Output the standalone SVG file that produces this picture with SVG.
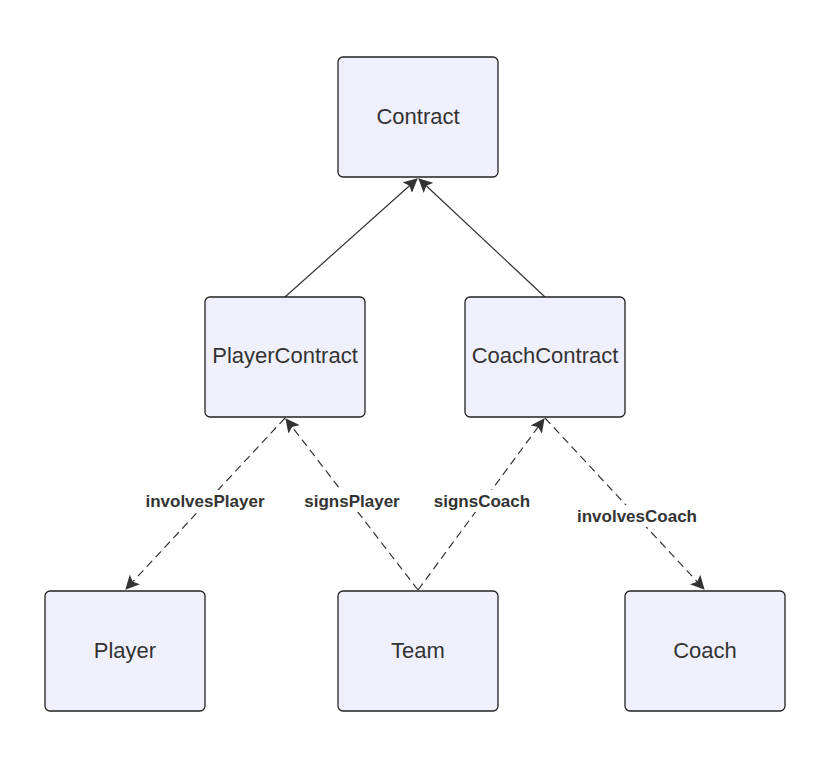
<svg xmlns="http://www.w3.org/2000/svg" width="828" height="762" viewBox="0 0 828 762">
<style>
.box{fill:#f0f0fd;stroke:#222;stroke-width:1.3}
.t{font-family:"Liberation Sans",Arial,sans-serif;font-size:22px;fill:#333;text-anchor:middle;dominant-baseline:central}
.e{stroke:#333;stroke-width:1.2;fill:none}
.d{stroke-dasharray:8 5}
.lb{font-family:"Liberation Sans",Arial,sans-serif;font-size:17px;font-weight:bold;fill:#333;text-anchor:middle;dominant-baseline:central}
.bg{fill:#fff}
</style>
<defs>
<marker id="ah" viewBox="0 0 14 14" refX="13" refY="7" markerWidth="14" markerHeight="14" markerUnits="userSpaceOnUse" orient="auto">
<path d="M0,0 L14,7 L0,14 L3,7 Z" fill="#333"/>
</marker>
</defs>
<rect width="828" height="762" fill="#fff"/>
<g id="connectors">
<line class="e" x1="285" y1="297" x2="417" y2="179" marker-end="url(#ah)"/>
<line class="e" x1="545" y1="297" x2="419" y2="179" marker-end="url(#ah)"/>
<line class="e d" x1="285" y1="418" x2="126" y2="589" marker-end="url(#ah)"/>
<line class="e d" x1="418" y1="590" x2="286" y2="419" marker-end="url(#ah)"/>
<line class="e d" x1="418" y1="590" x2="544" y2="419" marker-end="url(#ah)"/>
<line class="e d" x1="545" y1="418" x2="704" y2="589" marker-end="url(#ah)"/>
<rect class="bg" x="141" y="490" width="128" height="22"/>
<text class="lb" x="205" y="501">involvesPlayer</text>
<rect class="bg" x="301" y="490" width="102" height="22"/>
<text class="lb" x="352" y="501">signsPlayer</text>
<rect class="bg" x="431" y="490" width="102" height="22"/>
<text class="lb" x="482" y="501">signsCoach</text>
<rect class="bg" x="573" y="505" width="128" height="22"/>
<text class="lb" x="637" y="516">involvesCoach</text>
</g>
<g id="Contract"><rect class="box" x="338" y="57" width="160" height="120" rx="5"/><text class="t" x="418" y="116">Contract</text></g>
<g id="PlayerContract"><rect class="box" x="205" y="297" width="160" height="120" rx="5"/><text class="t" x="285" y="355">PlayerContract</text></g>
<g id="CoachContract"><rect class="box" x="465" y="297" width="160" height="120" rx="5"/><text class="t" x="545" y="355">CoachContract</text></g>
<g id="Player"><rect class="box" x="45" y="591" width="160" height="120" rx="5"/><text class="t" x="125" y="650">Player</text></g>
<g id="Team"><rect class="box" x="338" y="591" width="160" height="120" rx="5"/><text class="t" x="418" y="650">Team</text></g>
<g id="Coach"><rect class="box" x="625" y="591" width="160" height="120" rx="5"/><text class="t" x="705" y="650">Coach</text></g>
</svg>
